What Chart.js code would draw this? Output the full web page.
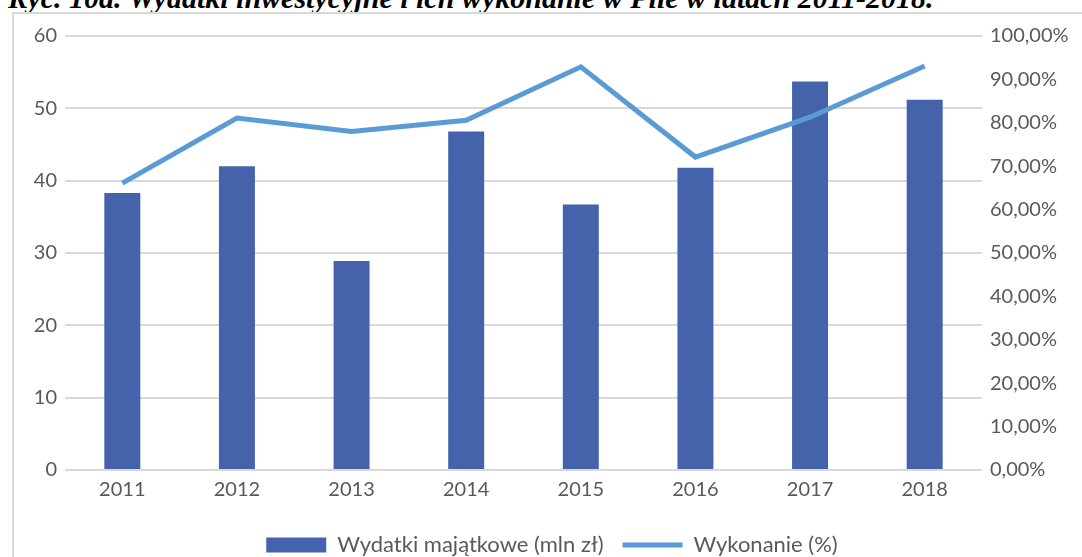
<!DOCTYPE html>
<html>
<head>
<meta charset="utf-8">
<script src="https://cdn.jsdelivr.net/npm/chart.js@4"></script>
<style>
	html, body { margin: 0; padding: 0; background: #fff; overflow: hidden; width: 1082px; height: 557px; }
	#title { position: absolute; left: 8px; top: -19px; line-height: 30px; white-space: nowrap;
		font: italic bold 30px "Liberation Serif", "Times New Roman", serif; color: #000; }
	#frame { position: absolute; left: 12px; top: 12px; width: 1200px; height: 700px; border: 2px solid #d9d9d9; }
	#wrap { position: absolute; left: 0; top: 0; width: 1082px; height: 566px; }
</style>
</head>
<body>
<div id="title">Ryc. 10a. Wydatki inwestycyjne i ich wykonanie w Pile w latach 2011-2018.</div>
<div id="frame"></div>
<div id="wrap"><canvas id="canvas" width="1082" height="566"></canvas></div>
<script>
// Data
const years = ['2011', '2012', '2013', '2014', '2015', '2016', '2017', '2018'];
const wydatki = [38.3, 42.0, 28.9, 46.8, 36.7, 41.8, 53.7, 51.2]; // mln zł
const wykonanie = [66.1, 81.1, 78.0, 80.6, 92.9, 72.1, 81.3, 93.1]; // %
const leftTicks = [0, 10, 20, 30, 40, 50, 60];
const rightTicks = [0, 10, 20, 30, 40, 50, 60, 70, 80, 90, 100];

const textColor = '#595959';
const gridColor = '#d9d9d9';
const font = { family: 'Lato', size: 20 };
const legendFont = { family: 'Lato', size: 22 };

const ctx = document.getElementById('canvas').getContext('2d');
const chart = new Chart(ctx, {
	type: 'bar',
	data: {
		labels: years,
		datasets: [
			{
				label: 'Wydatki majątkowe (mln zł)',
				data: wydatki,
				backgroundColor: '#4563ab',
				borderWidth: 0,
				categoryPercentage: 1,
				barPercentage: 0.314,
				yAxisID: 'y',
				pointStyle: 'rect',
				order: 1
			},
			{
				type: 'line',
				label: 'Wykonanie (%)',
				data: wykonanie,
				borderColor: '#5b9bd5',
				backgroundColor: '#5b9bd5',
				borderWidth: 5,
				pointRadius: 0,
				tension: 0,
				yAxisID: 'y1',
				pointStyle: 'line',
				order: 0 // line drawn over the bars
			}
		]
	},
	options: {
		responsive: false,
		animation: false,
		layout: { padding: { top: 36, left: 22, right: 0, bottom: 0 } },
		plugins: {
			tooltip: { enabled: false },
			legend: {
				position: 'bottom',
				labels: {
					color: textColor,
					font: legendFont,
					usePointStyle: true,
					pointStyleWidth: 60,
					boxHeight: 15,
					padding: 19,
					sort: (a, b) => a.datasetIndex - b.datasetIndex // keep bar first
				}
			}
		},
		scales: {
			x: {
				grid: { display: false },
				border: { display: false },
				ticks: { color: textColor, font: font, padding: 0, maxRotation: 0 },
				afterFit: (axis) => { axis.height = 45; }
			},
			y: {
				position: 'left',
				min: 0,
				max: 60,
				afterBuildTicks: (axis) => { axis.ticks = leftTicks.map(v => ({ value: v })); },
				grid: { color: gridColor, lineWidth: 2, drawTicks: false },
				border: { display: false },
				ticks: { color: textColor, font: font, padding: 8 },
				afterFit: (axis) => { axis.width = 43; }
			},
			y1: {
				position: 'right',
				min: 0,
				max: 100,
				afterBuildTicks: (axis) => { axis.ticks = rightTicks.map(v => ({ value: v })); },
				grid: { display: false, drawTicks: false },
				border: { display: false },
				ticks: {
					color: textColor,
					font: font,
					padding: 8,
					callback: (v) => v.toFixed(2).replace('.', ',') + '%'
				},
				afterFit: (axis) => { axis.width = 100; }
			}
		}
	}
});
</script>
</body>
</html>
